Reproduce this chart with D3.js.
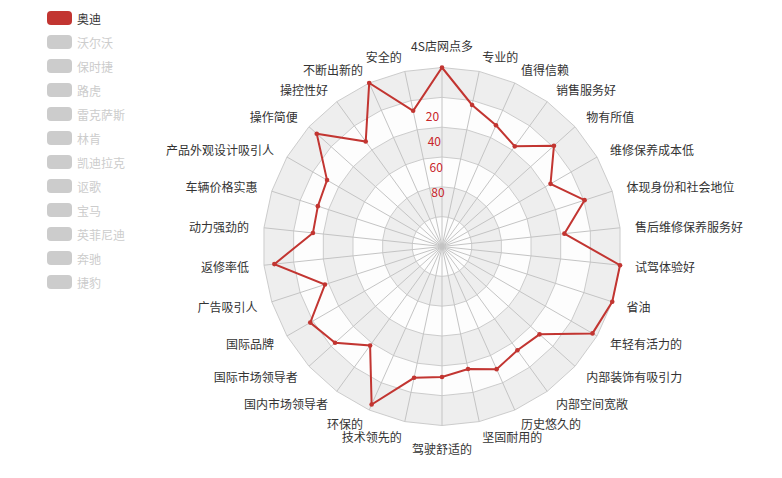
<!DOCTYPE html>
<html><head><meta charset="utf-8">
<script src="https://cdn.jsdelivr.net/npm/d3@7/dist/d3.min.js"></script>
<style>
body{margin:0;background:#fff;}
svg{display:block;font-family:"Noto Sans CJK SC","Microsoft YaHei",sans-serif;}
</style>
</head><body>
<svg id="chart" width="782" height="478"></svg>
<script>
const indicators = ["4S店网点多","专业的","值得信赖","销售服务好","物有所值","维修保养成本低","体现身份和社会地位","售后维修保养服务好","试驾体验好","省油","年轻有活力的","内部装饰有吸引力","内部空间宽敞","历史悠久的","坚固耐用的","驾驶舒适的","技术领先的","环保的","国内市场领导者","国际市场领导者","国际品牌","广告吸引人","返修率低","动力强劲的","车辆价格实惠","产品外观设计吸引人","操作简便","操控性好","不断出新的","安全的"];
const audiValues = [0, 23, 31, 37, 19, 36, 19.5, 37.5, 0, 0, 3.5, 32, 34, 30, 36, 32.5, 30, 4, 38, 23.5, 18, 37.5, 7, 33, 32.5, 31, 7, 33, 0, 27];
const brands = ["奥迪","沃尔沃","保时捷","路虎","雷克萨斯","林肯","凯迪拉克","讴歌","宝马","英菲尼迪","奔驰","捷豹"];
const activeBrands = ["奥迪"];
const axisTicks = [20, 40, 60, 80];
const ringValues = [0, 20, 40, 60, 80, 100];
const palette = ['#c23531','#2f4554','#61a0a8','#d48265','#91c7ae','#749f83','#ca8622','#bda29a','#6e7074','#546570','#c4ccd3','#c23531'];

const svg = d3.select("#chart");
const cx = 442, cy = 246.5, R = 179;
const n = indicators.length;
const r = d3.scaleLinear().domain([0, 120]).range([R, 0]);
const ang = d3.scaleLinear().domain([0, n]).range([0, 2 * Math.PI]);
const pt = (i, rad) => [cx + rad * Math.sin(ang(i)), cy - rad * Math.cos(ang(i))];
const ringPoly = rad => d3.range(n).map(i => pt(i, rad));

const g = svg.append("g");
// split areas (outer to inner)
ringValues.forEach((v, k) => {
  g.append("polygon")
    .attr("points", ringPoly(r(v)).map(p => p.join(",")).join(" "))
    .attr("fill", k % 2 === 0 ? "#eeeeee" : "#fdfdfd")
    .attr("stroke", "#cccccc").attr("stroke-width", 1);
});
// spokes
d3.range(n).forEach(i => {
  const p = pt(i, R);
  g.append("line").attr("x1", cx).attr("y1", cy).attr("x2", p[0]).attr("y2", p[1])
    .attr("stroke", "#c4c4c4").attr("stroke-width", 1);
});

// axis labels (inverse radial axis on first indicator)
const labY = d3.scaleLinear().domain([20, 80]).range([cy - 131, cy - 55]);
const labX = d3.scaleLinear().domain([20, 80]).range([cx - 9.5, cx - 4]);
g.selectAll("text.tick").data(axisTicks).enter().append("text")
  .attr("class", "tick")
  .attr("x", d => labX(d)).attr("y", d => labY(d))
  .attr("text-anchor", "middle").attr("dominant-baseline", "central")
  .attr("font-size", 12).attr("fill", "#c8252a").text(d => d);

// indicator names
indicators.forEach((name, i) => {
  const p = pt(i, R + 15);
  const s = Math.sin(ang(i)), c = Math.cos(ang(i));
  let anchor, dy = 0;
  if (Math.abs(s) < 1e-6) { anchor = "middle"; dy = c > 0 ? -7 : 8; }
  else anchor = s > 0 ? "start" : "end";
  g.append("text").attr("x", p[0]).attr("y", p[1] + dy)
    .attr("text-anchor", anchor).attr("dominant-baseline", "central")
    .attr("font-size", 12).attr("fill", "#333").text(name);
});

// series
const pts = audiValues.map((v, i) => pt(i, r(v)));
g.append("path").attr("d", d3.line()(pts) + "Z")
  .attr("fill", "none").attr("stroke", palette[0]).attr("stroke-width", 2);
g.selectAll("circle.sym").data(pts).enter().append("circle")
  .attr("class", "sym").attr("cx", d => d[0]).attr("cy", d => d[1]).attr("r", 2.3)
  .attr("fill", palette[0]);

// legend
const lg = svg.append("g");
brands.forEach((b, i) => {
  const on = activeBrands.includes(b);
  const y = 11 + i * 24;
  lg.append("rect").attr("x", 47).attr("y", y).attr("width", 25).attr("height", 14)
    .attr("rx", 4).attr("fill", on ? palette[i] : "#ccc");
  lg.append("text").attr("x", 77).attr("y", y + 7).attr("dominant-baseline", "central")
    .attr("font-size", 12).attr("fill", on ? "#333" : "#ccc").text(b);
});
</script>
</body></html>
